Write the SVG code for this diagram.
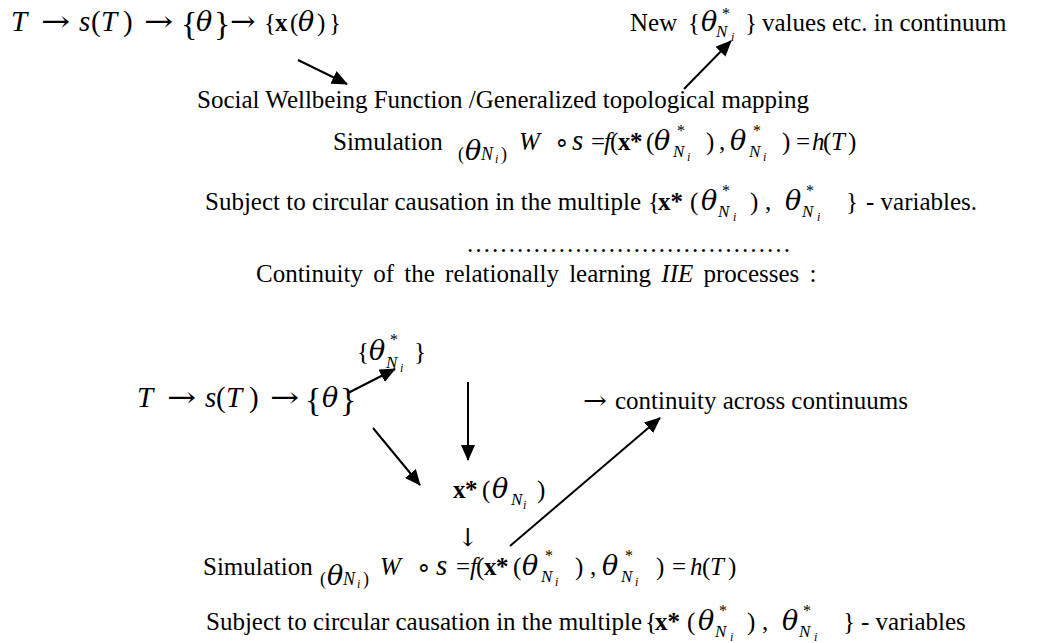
<svg xmlns="http://www.w3.org/2000/svg" width="1037" height="643" viewBox="0 0 1037 643">
<defs>
<style>
text { font-family: "Liberation Serif", "Times New Roman", serif; fill: #000; font-size: 25px; }
.i { font-style: italic; }
.b { font-weight: bold; }
.m { font-size: 29px; }
.br { font-size: 34px; }
.g { font-family: "DejaVu Serif", serif; }
.ar { font-family: "DejaVu Serif", serif; font-size: 29px; }
.th { font-family: "DejaVu Serif", serif; font-style: italic; font-size: 27px; }
.sup { font-size: 16px; }
.sub { font-size: 17px; font-style: italic; }
.ss { font-size: 12px; font-style: italic; }
.sm { font-size: 18px; }
.conn line { stroke: #000; stroke-width: 2; fill: none; }
</style>
<marker id="ah" viewBox="0 0 16 14" refX="15" refY="7" markerWidth="16" markerHeight="14" markerUnits="userSpaceOnUse" orient="auto">
<path d="M0,0 L16,7 L0,14 z" fill="#000"/>
</marker>
</defs>
<rect width="1037" height="643" fill="#fff"/>

<g id="top-chain">
<text y="31" class="m"><tspan x="11" class="i">T</tspan><tspan x="79" class="i">s</tspan><tspan x="91">(</tspan><tspan x="101" class="i">T</tspan><tspan x="123">)</tspan></text>
<text class="ar" transform="translate(41,31) scale(1.2,1)">→</text>
<text class="ar" transform="translate(144,31) scale(1.2,1)">→</text>
<text class="ar" transform="translate(230,31) scale(1.05,1)">→</text>
<text y="35" class="br"><tspan x="181">{</tspan><tspan x="214">}</tspan></text>
<text x="196" y="31" class="th">θ</text>
<text y="31" font-size="22"><tspan x="264">{</tspan><tspan x="275" class="b">x</tspan><tspan x="290">(</tspan></text>
<text x="298" y="31" class="th" font-size="20">θ</text>
<text y="31" font-size="22"><tspan x="317">)</tspan><tspan x="329">}</tspan></text>
</g>

<g id="new-values">
<text x="630" y="31" font-size="26.5">New</text>
<text x="688" y="31" font-size="26.5">{</text>
<text x="701" y="31" class="th">θ</text>
<text x="722" y="19" class="sup">*</text>
<text x="716" y="37" class="sub">N</text>
<text x="731" y="41" class="ss">i</text>
<text x="745" y="31" font-size="26.5">}</text>
<text x="762" y="31" font-size="26.5">values etc. in continuum</text>
</g>

<g id="wellbeing">
<text x="197" y="108" font-size="26">Social Wellbeing Function /Generalized topological mapping</text>
</g>

<g id="simulation-1">
<text x="333" y="150" font-size="26">Simulation</text>
<text x="458" y="160" class="sm">(</text>
<text x="465" y="160" class="th" font-size="15">θ</text>
<text x="481" y="160" class="sm i">N</text>
<text x="495" y="163" class="ss">i</text>
<text x="501" y="160" class="sm">)</text>
<text x="519" y="150" font-size="30" class="i">W</text>
<text x="554" y="150" font-size="24">∘</text>
<text x="572" y="150" class="m i">s</text>
<text y="150" font-size="20"><tspan x="591">=</tspan><tspan x="604" class="i">f</tspan><tspan x="610">(</tspan></text>
<text y="150" font-size="24" class="b"><tspan x="618">x</tspan><tspan x="630">*</tspan></text>
<text x="646" y="150" font-size="28">(</text>
<text x="654" y="150" class="th">θ</text>
<text x="677" y="136" class="sup">*</text>
<text x="673" y="157" class="sub">N</text>
<text x="687" y="161" class="ss">i</text>
<text x="706" y="150" font-size="28">)</text>
<text x="719" y="150" font-size="22">,</text>
<text x="730" y="150" class="th">θ</text>
<text x="753" y="136" class="sup">*</text>
<text x="749" y="157" class="sub">N</text>
<text x="763" y="161" class="ss">i</text>
<text x="782" y="150" font-size="28">)</text>
<text y="150" font-size="22"><tspan x="796">=</tspan><tspan x="812" class="i">h</tspan><tspan x="823">(</tspan><tspan x="831" class="i">T</tspan><tspan x="848">)</tspan></text>
</g>

<g id="subject-1">
<text x="205" y="210">Subject to circular causation in the multiple</text>
<text x="648" y="210">{</text>
<text x="658" y="210" class="b">x*</text>
<text x="690" y="210" font-size="28">(</text>
<text x="701" y="210" class="th">θ</text>
<text x="722" y="196" class="sup">*</text>
<text x="718" y="217" class="sub">N</text>
<text x="733" y="221" class="ss">i</text>
<text x="750" y="210" font-size="28">)</text>
<text x="765" y="210">,</text>
<text x="785" y="210" class="th">θ</text>
<text x="806" y="196" class="sup">*</text>
<text x="802" y="217" class="sub">N</text>
<text x="817" y="221" class="ss">i</text>
<text x="846" y="210">}</text>
<text x="866" y="210">- variables.</text>
</g>

<g id="dots">
<text x="466" y="252" font-size="26.25">…………………………………</text>
</g>

<g id="continuity-title">
<text x="256" y="282" font-size="28" word-spacing="4">Continuity of the relationally learning <tspan class="i">IIE</tspan> processes :</text>
</g>

<g id="theta-star">
<text x="357" y="360" font-size="28">{</text>
<text x="369" y="360" class="th">θ</text>
<text x="390" y="345" class="sup">*</text>
<text x="386" y="368" class="sub">N</text>
<text x="400" y="372" class="ss">i</text>
<text x="414" y="360" font-size="28">}</text>
</g>

<g id="chain-2">
<text y="407" class="m"><tspan x="137" class="i">T</tspan><tspan x="205" class="i">s</tspan><tspan x="216">(</tspan><tspan x="226" class="i">T</tspan><tspan x="249">)</tspan></text>
<text class="ar" transform="translate(167,407) scale(1.2,1)">→</text>
<text class="ar" transform="translate(270,407) scale(1.2,1)">→</text>
<text y="411" class="br"><tspan x="305">{</tspan><tspan x="340">}</tspan></text>
<text x="322" y="407" class="th">θ</text>
</g>

<g id="continuity-across">
<text class="g" font-size="25" transform="translate(583,409) scale(1.15,1)">→</text>
<text x="615" y="409">continuity across continuums</text>
</g>

<g id="x-star">
<text y="498" font-size="24" class="b"><tspan x="453">x</tspan><tspan x="465">*</tspan></text>
<text x="482" y="498" font-size="28">(</text>
<text x="492" y="498" class="th">θ</text>
<text x="511" y="505" class="sub">N</text>
<text x="523" y="509" class="ss">i</text>
<text x="537" y="498" font-size="28">)</text>
</g>

<g id="down-arrow">
<text x="468" y="546" text-anchor="middle" class="g" font-size="24">↓</text>
</g>

<g id="simulation-2">
<text x="203" y="575" font-size="26">Simulation</text>
<text x="320" y="585" class="sm">(</text>
<text x="327" y="585" class="th" font-size="15">θ</text>
<text x="343" y="585" class="sm i">N</text>
<text x="357" y="588" class="ss">i</text>
<text x="363" y="585" class="sm">)</text>
<text x="380" y="575" font-size="30" class="i">W</text>
<text x="416" y="575" font-size="24">∘</text>
<text x="436" y="575" class="m i">s</text>
<text y="575" font-size="20"><tspan x="456">=</tspan><tspan x="470" class="i">f</tspan><tspan x="476">(</tspan></text>
<text y="575" font-size="24" class="b"><tspan x="484">x</tspan><tspan x="496">*</tspan></text>
<text x="513" y="575" font-size="28">(</text>
<text x="522" y="575" class="th">θ</text>
<text x="545" y="561" class="sup">*</text>
<text x="541" y="582" class="sub">N</text>
<text x="555" y="586" class="ss">i</text>
<text x="575" y="575" font-size="28">)</text>
<text x="590" y="575" font-size="22">,</text>
<text x="602" y="575" class="th">θ</text>
<text x="625" y="561" class="sup">*</text>
<text x="621" y="582" class="sub">N</text>
<text x="635" y="586" class="ss">i</text>
<text x="656" y="575" font-size="28">)</text>
<text y="575" font-size="22"><tspan x="672">=</tspan><tspan x="690" class="i">h</tspan><tspan x="702">(</tspan><tspan x="710" class="i">T</tspan><tspan x="728">)</tspan></text>
</g>

<g id="subject-2">
<text x="206" y="630">Subject to circular causation in the multiple</text>
<text x="645" y="630">{</text>
<text x="655" y="630" class="b">x*</text>
<text x="687" y="630" font-size="28">(</text>
<text x="698" y="630" class="th">θ</text>
<text x="719" y="616" class="sup">*</text>
<text x="715" y="637" class="sub">N</text>
<text x="730" y="641" class="ss">i</text>
<text x="747" y="630" font-size="28">)</text>
<text x="762" y="630">,</text>
<text x="782" y="630" class="th">θ</text>
<text x="803" y="616" class="sup">*</text>
<text x="799" y="637" class="sub">N</text>
<text x="814" y="641" class="ss">i</text>
<text x="843" y="630">}</text>
<text x="861" y="630">- variables</text>
</g>

<g id="connectors" class="conn">
<line x1="298" y1="60" x2="347" y2="84" marker-end="url(#ah)"/>
<line x1="684" y1="89" x2="731" y2="41" marker-end="url(#ah)"/>
<line x1="348" y1="393" x2="395" y2="369" marker-end="url(#ah)"/>
<line x1="468" y1="382" x2="468" y2="460" marker-end="url(#ah)"/>
<line x1="373" y1="428" x2="420" y2="485" marker-end="url(#ah)"/>
<line x1="510" y1="546" x2="660" y2="418" marker-end="url(#ah)"/>
</g>
</svg>
